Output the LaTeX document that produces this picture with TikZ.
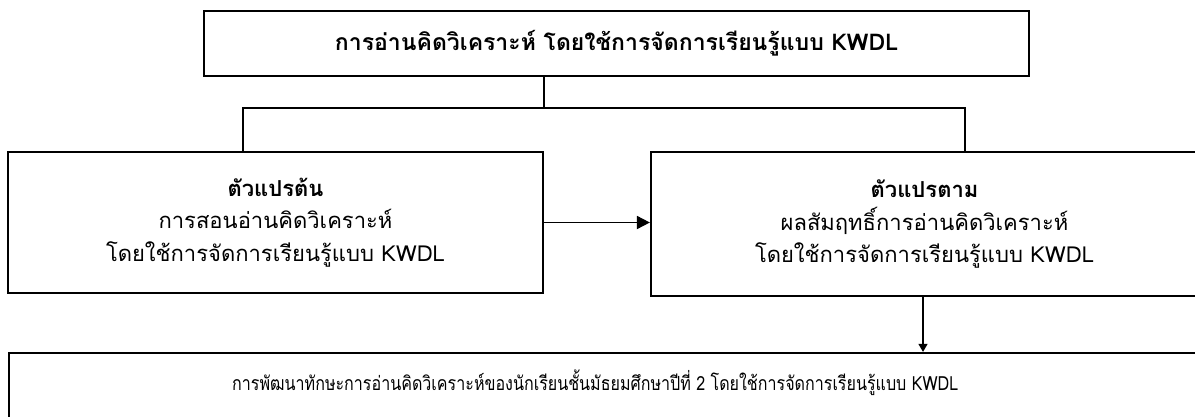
\documentclass[tikz,border=0pt]{standalone}
\usepackage{fontspec}
\usepackage{graphicx}
\setmainfont[Script=Thai]{Loma}
\usetikzlibrary{arrows.meta}
\tikzset{
  boxst/.style={draw=black, line width=2.2pt, inner sep=0pt, align=center},
  conn/.style={draw=black, line width=1.8pt},
  txt/.style={font=\fontsize{22}{32.5}\selectfont, align=center, inner sep=0pt},
}
\begin{document}
\begin{tikzpicture}[x=1pt,y=-1pt]
\useasboundingbox (0,0) rectangle (1195,416);
\fill[white] (0,0) rectangle (1195,416);
\clip (0,0) rectangle (1195,416);
\node[boxst, minimum width=825pt, minimum height=65pt] (top) at (616.5,43.5) {};
\node[txt, font=\fontsize{23}{32.5}\selectfont\bfseries] (toptxt) at (top.center) {การอ่านคิดวิเคราะห์ โดยใช้การจัดการเรียนรู้แบบ KWDL};
\node[boxst, minimum width=535pt, minimum height=141pt] (left) at (275.5,222.5) {};
\node[txt] (lefttxt) at (left.center) {\textbf{ตัวแปรต้น}\\การสอนอ่านคิดวิเคราะห์\\โดยใช้การจัดการเรียนรู้แบบ KWDL};
\node[boxst, minimum width=547pt, minimum height=144pt] (right) at (924.5,224) {};
\node[txt] (righttxt) at (right.center) {\textbf{ตัวแปรตาม}\\ผลสัมฤทธิ์การอ่านคิดวิเคราะห์\\โดยใช้การจัดการเรียนรู้แบบ KWDL};
\node[boxst, minimum width=1190pt, minimum height=70pt] (bot) at (604,388) {};
\node[txt, font=\fontsize{19.5}{30}\selectfont, anchor=west] (bottxt) at (232,383) {\resizebox{726pt}{\height}{การพัฒนาทักษะการอ่านคิดวิเคราะห์ของนักเรียนชั้นมัธยมศึกษาปีที่ 2 โดยใช้การจัดการเรียนรู้แบบ KWDL}};
\coordinate (jm) at (544,108);
\coordinate (jl) at (243,108);
\coordinate (jr) at (965,108);
\draw[conn] (jm |- top.south) -- (jm);
\draw[conn] (jl |- left.north) -- (jl) -- (jr) -- (jr |- right.north);
\draw[conn, -{Triangle[length=13pt,width=13pt]}] (left.east) -- (left.east -| right.west);
\draw[conn, line width=1.3pt, -{Triangle[length=8pt,width=9pt]}] (right.south -| 923,0) -- (bot.north -| 923,0);
\end{tikzpicture}
\end{document}
